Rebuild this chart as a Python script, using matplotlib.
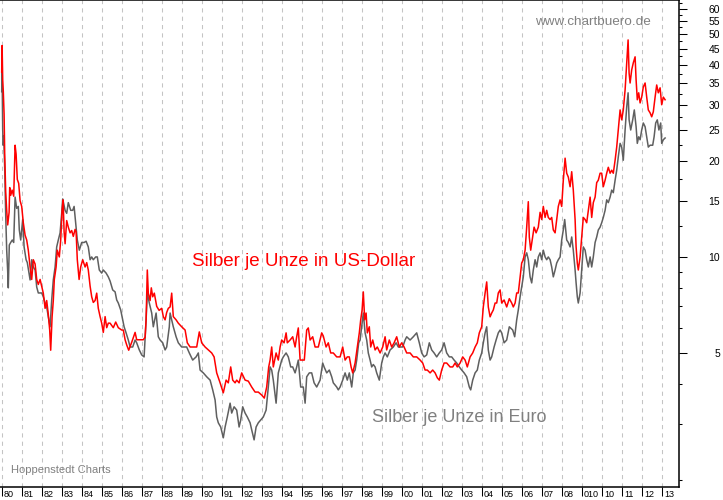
import numpy as np
import matplotlib
matplotlib.use("Agg")
import matplotlib.pyplot as plt
from matplotlib.ticker import FixedLocator, NullFormatter
from matplotlib.transforms import ScaledTranslation

plt.rcParams['font.family'] = ['Liberation Sans', 'DejaVu Sans']

# Silberpreis je Unze in US-Dollar
jahre_usd = [
    1980.00, 1980.02, 1980.05, 1980.08, 1980.12, 1980.15, 1980.20, 1980.25, 1980.30, 1980.37, 1980.40, 1980.45, 1980.52, 1980.60, 1980.67, 1980.72, 1980.78, 1980.85, 1980.92,
    1981.00, 1981.08, 1981.17, 1981.25, 1981.33, 1981.42, 1981.50, 1981.58, 1981.67, 1981.75, 1981.83, 1981.92,
    1982.00, 1982.08, 1982.17, 1982.25, 1982.33, 1982.40, 1982.45, 1982.52, 1982.58, 1982.63, 1982.72, 1982.78, 1982.88, 1982.95,
    1983.02, 1983.07, 1983.12, 1983.17, 1983.25, 1983.33, 1983.42, 1983.50, 1983.58, 1983.67, 1983.72, 1983.78, 1983.87, 1983.95,
    1984.05, 1984.17, 1984.25, 1984.33, 1984.42, 1984.50, 1984.58, 1984.67, 1984.75, 1984.83, 1984.92,
    1985.00, 1985.08, 1985.17, 1985.25, 1985.33, 1985.42, 1985.58, 1985.70, 1985.83,
    1986.00, 1986.08, 1986.17, 1986.25, 1986.35, 1986.50, 1986.67, 1986.75, 1986.92,
    1987.08, 1987.17, 1987.22, 1987.28, 1987.33, 1987.42, 1987.48, 1987.55, 1987.63, 1987.75, 1987.87,
    1988.00, 1988.08, 1988.17, 1988.25, 1988.33, 1988.42, 1988.50, 1988.58, 1988.72, 1988.83,
    1989.00, 1989.17, 1989.28, 1989.42, 1989.58, 1989.75, 1989.88,
    1990.00, 1990.17, 1990.33, 1990.50, 1990.62, 1990.75, 1990.92,
    1991.08, 1991.22, 1991.33, 1991.45, 1991.55, 1991.67, 1991.75, 1991.87,
    1992.00, 1992.17, 1992.33, 1992.50, 1992.67, 1992.83,
    1993.00, 1993.13, 1993.25, 1993.35, 1993.42, 1993.50, 1993.58, 1993.72, 1993.83, 1993.92,
    1994.00, 1994.12, 1994.22, 1994.28, 1994.42, 1994.55, 1994.67, 1994.75, 1994.83, 1994.92,
    1995.00, 1995.13, 1995.25, 1995.33, 1995.42, 1995.55, 1995.67, 1995.83,
    1996.00, 1996.08, 1996.22, 1996.33, 1996.45, 1996.58, 1996.75, 1996.92,
    1997.05, 1997.17, 1997.28, 1997.38, 1997.47, 1997.55, 1997.67, 1997.78, 1997.88, 1997.95,
    1998.02, 1998.08, 1998.15, 1998.22, 1998.28, 1998.38, 1998.45, 1998.55, 1998.67, 1998.78, 1998.92,
    1999.05, 1999.17, 1999.25, 1999.38, 1999.50, 1999.62, 1999.75, 1999.88,
    2000.00, 2000.12, 2000.25, 2000.42, 2000.58, 2000.75, 2000.92,
    2001.05, 2001.17, 2001.28, 2001.42, 2001.55, 2001.67, 2001.78, 2001.88,
    2002.00, 2002.12, 2002.25, 2002.42, 2002.55, 2002.67, 2002.78, 2002.92,
    2003.05, 2003.17, 2003.28, 2003.42, 2003.55, 2003.67, 2003.78, 2003.88,
    2004.00, 2004.08, 2004.17, 2004.25, 2004.33, 2004.42, 2004.50, 2004.58, 2004.67, 2004.75, 2004.83, 2004.92,
    2005.00, 2005.12, 2005.25, 2005.38, 2005.50, 2005.58, 2005.67, 2005.75, 2005.83, 2005.92,
    2006.00, 2006.08, 2006.17, 2006.25, 2006.33, 2006.38, 2006.45, 2006.55, 2006.62, 2006.72, 2006.83, 2006.92,
    2007.00, 2007.08, 2007.17, 2007.25, 2007.33, 2007.42, 2007.50, 2007.58, 2007.67, 2007.75, 2007.83, 2007.92,
    2008.00, 2008.08, 2008.17, 2008.25, 2008.33, 2008.42, 2008.50, 2008.58, 2008.67, 2008.72, 2008.78, 2008.83, 2008.92,
    2009.00, 2009.08, 2009.17, 2009.25, 2009.33, 2009.42, 2009.50, 2009.58, 2009.67, 2009.75, 2009.83, 2009.92,
    2010.00, 2010.08, 2010.17, 2010.25, 2010.33, 2010.42, 2010.50, 2010.58, 2010.67, 2010.75, 2010.83, 2010.92,
    2011.00, 2011.08, 2011.17, 2011.25, 2011.32, 2011.37, 2011.42, 2011.50, 2011.58, 2011.67, 2011.72, 2011.78, 2011.85, 2011.92,
    2012.00, 2012.08, 2012.17, 2012.25, 2012.33, 2012.42, 2012.50, 2012.58, 2012.67, 2012.75, 2012.83, 2012.92,
    2013.00, 2013.08, 2013.17,
]
usd = [
    38.0, 46.0, 36.0, 33.0, 28.0, 21.0, 16.0, 14.0, 12.6, 13.8, 16.5, 15.6, 16.2, 15.5, 22.4, 21.0, 17.5, 17.0, 15.0,
    14.4, 12.8, 11.7, 11.3, 10.5, 9.3, 8.5, 9.8, 9.5, 8.5, 8.2, 8.5,
    8.1, 7.7, 6.9, 7.3, 6.6, 5.9, 5.1, 6.5, 7.3, 8.5, 9.3, 10.5, 10.0, 11.3,
    14.0, 15.1, 12.0, 11.0, 13.0, 12.4, 11.9, 12.1, 11.6, 12.2, 12.0, 9.8, 8.5, 9.3,
    9.8, 9.3, 9.6, 9.1, 8.1, 7.5, 7.2, 7.3, 7.7, 6.9, 6.5,
    6.2, 5.8, 6.5, 6.0, 6.2, 6.2, 6.0, 6.25, 6.0,
    5.9, 5.9, 5.5, 5.3, 5.1, 5.4, 5.8, 5.5, 5.5,
    5.5, 5.6, 6.35, 9.1, 7.7, 7.3, 8.0, 7.5, 7.7, 7.0, 6.8,
    6.9, 6.5, 6.35, 6.7, 6.9, 6.97, 7.7, 6.5, 6.35, 6.2,
    6.04, 5.9, 5.38, 5.22, 5.22, 5.22, 5.82,
    5.38, 5.22, 5.11, 5.0, 4.86, 4.33, 4.03,
    3.75, 4.11, 4.03, 4.52, 4.11, 4.03, 4.11, 4.03,
    4.33, 4.11, 4.08, 3.91, 3.77, 3.77,
    3.69, 3.61, 3.91, 4.52, 4.75, 5.22, 4.52, 5.0, 4.75, 5.22,
    5.49, 5.38, 5.78, 5.38, 5.49, 5.62, 5.22, 5.62, 5.99, 4.75,
    4.75, 4.75, 5.9, 5.99, 5.49, 5.62, 5.22, 5.22,
    5.78, 5.65, 5.22, 5.38, 5.0, 5.0, 4.86, 4.86,
    5.22, 4.75, 4.86, 4.86, 4.52, 4.33, 4.65, 5.22, 5.78, 6.35,
    6.82, 7.77, 6.35, 6.67, 5.78, 6.04, 5.22, 5.49, 5.11, 5.22, 5.0,
    5.22, 5.62, 5.11, 5.49, 5.22, 5.38, 5.62, 5.22,
    5.38, 5.22, 5.0, 5.0, 4.86, 4.86, 4.75,
    4.65, 4.42, 4.42, 4.33, 4.42, 4.33, 4.18, 4.11,
    4.42, 4.65, 4.65, 4.52, 4.52, 4.65, 4.52, 4.65,
    4.86, 4.75, 4.52, 4.86, 5.0, 5.22, 5.38, 5.78,
    6.04, 6.97, 7.71, 8.35, 6.97, 6.49, 6.67, 6.82, 7.17, 7.17, 7.71, 7.88,
    7.17, 7.33, 6.97, 7.4, 7.17, 6.97, 7.17, 7.71, 7.71, 8.66,
    9.57, 9.8, 10.5, 12.4, 14.9, 11.55, 10.5, 11.55, 12.4, 11.9, 12.4, 13.8,
    13.1, 14.4, 13.3, 14.0, 13.3, 13.1, 13.3, 12.15, 11.9, 13.1, 14.4, 15.1,
    14.4, 17.4, 20.4, 18.3, 17.8, 16.6, 18.5, 16.2, 13.1, 10.75, 9.57, 9.1, 10.0,
    11.55, 13.3, 13.1, 12.8, 14.0, 15.4, 13.3, 14.8, 15.4, 17.1, 17.4, 18.3,
    18.3, 16.6, 17.4, 18.3, 19.1, 18.3, 18.7, 18.3, 20.1, 22.1, 25.0, 28.9,
    26.9, 28.9, 33.4, 40.6, 47.9, 37.7, 35.1, 38.6, 40.6, 42.4, 35.9, 31.1, 32.7, 30.4,
    31.7, 34.1, 35.1, 31.7, 28.9, 28.3, 27.5, 28.5, 31.7, 34.6, 32.7, 33.9,
    30.0, 31.7, 31.1,
]

# Silberpreis je Unze in Euro
jahre_eur = [
    1980.00, 1980.02, 1980.05, 1980.08, 1980.10, 1980.15, 1980.20, 1980.25, 1980.30, 1980.33, 1980.38, 1980.45, 1980.53, 1980.60, 1980.67, 1980.75, 1980.83, 1980.88, 1980.95,
    1981.05, 1981.12, 1981.22, 1981.28, 1981.42, 1981.50, 1981.58, 1981.67, 1981.75, 1981.83, 1981.92,
    1982.00, 1982.08, 1982.17, 1982.25, 1982.33, 1982.42, 1982.50, 1982.58, 1982.67, 1982.75, 1982.83, 1982.92,
    1983.00, 1983.05, 1983.17, 1983.25, 1983.33, 1983.45, 1983.55, 1983.62, 1983.72, 1983.78, 1983.88,
    1984.00, 1984.12, 1984.22, 1984.33, 1984.42, 1984.50, 1984.58, 1984.70, 1984.78, 1984.88,
    1985.00, 1985.08, 1985.22, 1985.33, 1985.42, 1985.55, 1985.67, 1985.75, 1985.83, 1985.95,
    1986.05, 1986.12, 1986.22, 1986.33, 1986.42, 1986.55, 1986.67, 1986.75, 1986.88,
    1987.00, 1987.12, 1987.22, 1987.28, 1987.38, 1987.50, 1987.58, 1987.72, 1987.83, 1987.92,
    1988.05, 1988.17, 1988.25, 1988.38, 1988.42, 1988.50, 1988.58, 1988.72, 1988.83,
    1989.00, 1989.08, 1989.25, 1989.38, 1989.55, 1989.72, 1989.83, 1989.92,
    1990.08, 1990.25, 1990.42, 1990.55, 1990.67, 1990.75, 1990.83, 1990.95,
    1991.08, 1991.17, 1991.28, 1991.42, 1991.50, 1991.62, 1991.75, 1991.87, 1991.95,
    1992.05, 1992.17, 1992.28, 1992.42, 1992.50, 1992.62, 1992.72, 1992.83, 1992.95,
    1993.08, 1993.22, 1993.33, 1993.42, 1993.50, 1993.58, 1993.72, 1993.83,
    1994.00, 1994.08, 1994.22, 1994.33, 1994.45, 1994.55, 1994.67, 1994.75, 1994.83, 1994.95,
    1995.08, 1995.17, 1995.25, 1995.38, 1995.50, 1995.62, 1995.75, 1995.92,
    1996.05, 1996.12, 1996.25, 1996.38, 1996.50, 1996.58, 1996.75, 1996.83, 1996.92,
    1997.05, 1997.17, 1997.28, 1997.38, 1997.50, 1997.58, 1997.67, 1997.75, 1997.85, 1997.92,
    1998.00, 1998.08, 1998.17, 1998.25, 1998.33, 1998.42, 1998.50, 1998.58, 1998.67, 1998.75, 1998.88,
    1999.00, 1999.08, 1999.17, 1999.28, 1999.42, 1999.58, 1999.72, 1999.83, 1999.95,
    2000.05, 2000.17, 2000.25, 2000.42, 2000.58, 2000.75, 2000.88,
    2001.00, 2001.12, 2001.25, 2001.38, 2001.50, 2001.62, 2001.75, 2001.88,
    2002.00, 2002.12, 2002.25, 2002.38, 2002.50, 2002.62, 2002.75, 2002.88,
    2003.00, 2003.12, 2003.25, 2003.38, 2003.45, 2003.55, 2003.67, 2003.78, 2003.88,
    2004.00, 2004.08, 2004.17, 2004.25, 2004.33, 2004.42, 2004.50, 2004.62, 2004.72, 2004.83, 2004.92,
    2005.00, 2005.12, 2005.25, 2005.38, 2005.55, 2005.65, 2005.75, 2005.83, 2005.92,
    2006.00, 2006.08, 2006.17, 2006.25, 2006.33, 2006.42, 2006.50, 2006.58, 2006.67, 2006.75, 2006.83, 2006.92,
    2007.00, 2007.08, 2007.17, 2007.25, 2007.33, 2007.42, 2007.50, 2007.58, 2007.67, 2007.75, 2007.83, 2007.92,
    2008.00, 2008.08, 2008.15, 2008.25, 2008.33, 2008.42, 2008.50, 2008.58, 2008.67, 2008.72, 2008.78, 2008.83, 2008.92,
    2009.00, 2009.08, 2009.17, 2009.25, 2009.33, 2009.42, 2009.50, 2009.58, 2009.67, 2009.75, 2009.83, 2009.92,
    2010.00, 2010.08, 2010.17, 2010.25, 2010.33, 2010.42, 2010.50, 2010.58, 2010.67, 2010.75, 2010.83, 2010.92,
    2011.00, 2011.08, 2011.17, 2011.25, 2011.32, 2011.37, 2011.45, 2011.55, 2011.63, 2011.72, 2011.78, 2011.85, 2011.92,
    2012.00, 2012.08, 2012.17, 2012.25, 2012.33, 2012.42, 2012.55, 2012.62, 2012.70, 2012.78, 2012.86, 2012.95,
    2013.00, 2013.08, 2013.17,
]
eur = [
    33.0, 38.0, 25.0, 22.4, 24.0, 19.0, 13.5, 10.5, 9.0, 8.0, 10.9, 11.1, 11.3, 11.1, 15.4, 14.2, 14.4, 12.15, 11.3,
    13.1, 10.75, 9.8, 9.6, 8.47, 9.8, 9.3, 9.1, 8.05, 7.71, 7.71,
    7.71, 7.5, 7.17, 6.97, 6.49, 6.04, 7.33, 8.47, 9.3, 10.75, 11.3, 11.9,
    13.7, 15.2, 14.0, 13.7, 14.8, 14.0, 14.0, 14.4, 12.4, 11.3, 10.5,
    11.1, 11.1, 11.2, 10.75, 9.8, 10.0, 9.8, 10.0, 10.0, 9.1,
    8.9, 9.1, 8.9, 8.66, 8.4, 7.88, 7.77, 7.33, 7.17, 6.82,
    6.35, 6.04, 5.78, 5.49, 5.22, 5.22, 5.49, 5.38, 5.11,
    4.93, 4.86, 6.35, 7.71, 7.17, 6.67, 6.04, 6.67, 5.62, 5.49,
    5.38, 5.11, 5.22, 6.04, 6.67, 6.35, 6.04, 5.62, 5.38,
    5.22, 5.22, 5.22, 5.0, 4.75, 4.86, 5.0, 4.42,
    4.33, 4.21, 4.11, 3.83, 3.56, 3.15, 3.02, 2.93,
    2.71, 2.93, 3.15, 3.48, 3.24, 3.39, 3.31, 2.93, 3.08,
    3.39, 3.24, 3.15, 3.02, 2.87, 2.67, 2.93, 3.02, 3.08,
    3.15, 3.31, 3.91, 4.52, 4.42, 4.11, 3.48, 4.33,
    4.75, 4.86, 5.0, 4.86, 4.52, 4.52, 4.33, 4.52, 4.75, 3.91,
    3.91, 3.48, 4.21, 4.33, 4.33, 4.03, 3.91, 4.11,
    4.65, 4.52, 4.33, 4.42, 4.21, 4.03, 3.91, 3.83, 3.91,
    4.11, 4.33, 4.11, 4.33, 3.91, 4.33, 4.42, 4.75, 5.38, 5.49,
    6.04, 6.67, 5.78, 5.49, 5.0, 4.75, 4.52, 4.6, 4.52, 4.33, 4.11,
    4.65, 4.86, 5.0, 4.86, 5.11, 5.22, 5.38, 5.22, 5.22,
    5.22, 5.49, 5.62, 5.49, 5.62, 5.78, 5.38,
    5.0, 4.86, 4.93, 5.38, 5.11, 5.0, 4.86, 5.0,
    5.11, 5.38, 5.0, 4.86, 4.86, 4.75, 4.65, 4.52,
    4.42, 4.33, 4.21, 3.91, 3.83, 4.11, 4.33, 4.42, 4.75,
    5.0, 5.38, 5.78, 6.04, 5.11, 4.75, 4.86, 5.22, 5.49, 5.78, 5.9,
    5.78, 5.38, 5.49, 6.04, 5.9, 5.62, 6.35, 6.82, 7.5,
    8.05, 8.66, 10.0, 10.3, 9.8, 8.66, 8.29, 9.1, 9.8, 9.3, 10.0, 10.3,
    9.8, 10.5, 10.0, 9.8, 10.0, 9.8, 9.3, 8.66, 9.1, 9.57, 9.8, 10.0,
    11.3, 12.15, 13.1, 11.3, 11.1, 10.75, 11.55, 10.5, 9.1, 8.29, 7.5, 7.17, 7.71,
    9.1, 10.75, 10.5, 9.8, 9.3, 10.0, 9.3, 10.0, 11.1, 11.55, 12.15, 12.4,
    12.8, 13.3, 14.0, 15.1, 14.8, 15.4, 16.2, 15.9, 17.4, 18.7, 20.6, 22.7,
    22.1, 20.1, 25.0, 29.5, 32.7, 26.9, 25.0, 26.9, 28.9, 25.6, 22.7, 23.8, 23.3,
    25.0, 26.3, 25.6, 23.8, 22.1, 22.4, 22.4, 23.8, 26.3, 26.9, 25.0, 26.3,
    22.7, 23.3, 23.6,
]

# Achsen-Beschriftung
jahre = list(range(1980, 2014))
jahr_labels = ["80", "81", "82", "83", "84", "85", "86", "87", "88", "89",
               "90", "91", "92", "93", "94", "95", "96", "97", "98", "99",
               "00", "01", "02", "03", "04", "05", "06", "07", "08", "010",
               "10", "11", "12", "13"]
y_major = [5, 10, 15, 20, 25, 30, 35, 40, 45, 50, 55, 60]
y_minor = [2, 3, 4, 6, 7, 8, 9, 12.5, 17.5, 22.5, 27.5, 32.5, 37.5,
           42.5, 47.5, 52.5, 57.5, 62.5]

fig = plt.figure(figsize=(7.23, 5.0), dpi=100)
ax = fig.add_axes([0.0, 13 / 500, 679 / 723, 487 / 500])

ax.plot(jahre_eur, eur, color="#5f5f5f", lw=1.1)
ax.plot(jahre_usd, usd, color="#ff0000", lw=1.1)

ax.set_yscale("log")
ax.set_ylim(1.9, 63.9)
ax.set_xlim(1979.915, 2013.865)

# rechte Skala
ax.yaxis.tick_right()
ax.yaxis.set_major_locator(FixedLocator(y_major))
ax.yaxis.set_minor_locator(FixedLocator(y_minor))
ax.yaxis.set_minor_formatter(NullFormatter())
ax.set_yticklabels([str(v) for v in y_major])
ax.tick_params(axis="y", which="major", direction="out", length=5.5, width=0.75,
               pad=24, labelsize=7.5)
ax.tick_params(axis="y", which="minor", direction="out", length=2.4, width=0.75)
for lab in ax.get_yticklabels():
    lab.set_horizontalalignment("right")

# Jahre unten, Strich links neben der Zahl
ax.set_xticks(jahre)
ax.set_xticklabels(jahr_labels)
ax.tick_params(axis="x", which="major", direction="out", length=6.8, width=0.75,
               pad=-4.8, labelsize=6.5)
for lab in ax.get_xticklabels():
    lab.set_horizontalalignment("left")
    lab.set_transform(lab.get_transform() + ScaledTranslation(0.023, 0, fig.dpi_scale_trans))

ax.grid(axis="x", color="#c4c4c4", linestyle=(0, (4, 4)), lw=0.75)
ax.set_axisbelow(True)

ax.spines["left"].set_visible(False)
for s in ["top", "right", "bottom"]:
    ax.spines[s].set_linewidth(1.1)
    ax.spines[s].set_color("black")

# Texte
fig.text(192 / 723, 1 - 265.5 / 500, "Silber je Unze in US-Dollar", color="#ff0000",
         fontsize=13.5, va="baseline")
fig.text(372 / 723, 1 - 421.5 / 500, "Silber je Unze in Euro", color="#808080",
         fontsize=13, va="baseline")
fig.text(535 / 723, 1 - 25 / 500, "www.chartbuero.de", color="#808080",
         fontsize=9.7, va="baseline")
fig.text(11 / 723, 1 - 473.3 / 500, "Hoppenstedt Charts", color="#808080",
         fontsize=8, va="baseline")

fig.savefig("out.png", dpi=100)
